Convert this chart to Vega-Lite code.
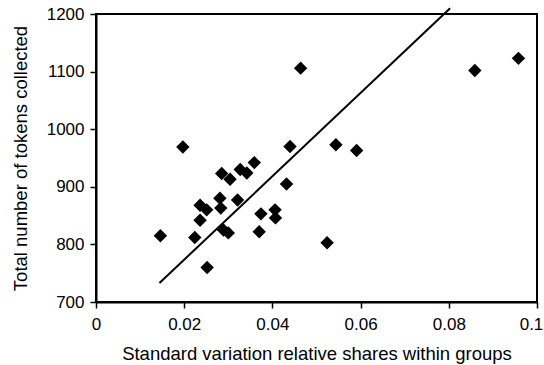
{
  "$schema": "https://vega.github.io/schema/vega-lite/v6.json",
  "autosize": "none",
  "width": 441,
  "height": 288,
  "padding": {"left": 96, "top": 14, "right": 7, "bottom": 63},
  "background": "white",
  "config": {
    "font": "Liberation Sans",
    "view": {"stroke": "black", "strokeWidth": 2},
    "axis": {
      "grid": false,
      "domainColor": "black",
      "domainWidth": 2,
      "tickColor": "black",
      "tickWidth": 1.5,
      "tickSize": 6,
      "labelColor": "black",
      "labelFontSize": 17,
      "labelFont": "Liberation Sans",
      "titleColor": "black",
      "titleFontSize": 18.5,
      "titleFont": "Liberation Sans",
      "titleFontWeight": "normal"
    }
  },
  "datasets": {
    "pts": [
      {"x": 0.0146, "y": 815},
      {"x": 0.0197, "y": 969},
      {"x": 0.0224, "y": 812},
      {"x": 0.0236, "y": 868},
      {"x": 0.0236, "y": 842},
      {"x": 0.0251, "y": 860},
      {"x": 0.0252, "y": 760},
      {"x": 0.0281, "y": 880},
      {"x": 0.0283, "y": 863},
      {"x": 0.0285, "y": 923},
      {"x": 0.0289, "y": 825},
      {"x": 0.0300, "y": 820},
      {"x": 0.0304, "y": 913},
      {"x": 0.0321, "y": 877},
      {"x": 0.0327, "y": 930},
      {"x": 0.0342, "y": 924},
      {"x": 0.0359, "y": 942},
      {"x": 0.0370, "y": 822},
      {"x": 0.0374, "y": 853},
      {"x": 0.0406, "y": 860},
      {"x": 0.0407, "y": 846},
      {"x": 0.0432, "y": 905},
      {"x": 0.0440, "y": 970},
      {"x": 0.0464, "y": 1106},
      {"x": 0.0524, "y": 803},
      {"x": 0.0544, "y": 973},
      {"x": 0.0591, "y": 963},
      {"x": 0.0859, "y": 1102},
      {"x": 0.0958, "y": 1123}
    ],
    "trend": [
      {"x": 0.0144, "y": 733},
      {"x": 0.0803, "y": 1210}
    ]
  },
  "layer": [
    {
      "data": {"name": "trend"},
      "mark": {"type": "line", "color": "black", "strokeWidth": 2, "clip": false},
      "encoding": {
        "x": {"field": "x", "type": "quantitative"},
        "y": {"field": "y", "type": "quantitative"}
      }
    },
    {
      "data": {"name": "pts"},
      "mark": {"type": "point", "shape": "diamond", "filled": true, "color": "black", "opacity": 1, "size": 180},
      "encoding": {
        "x": {
          "field": "x", "type": "quantitative",
          "scale": {"domain": [0, 0.1], "nice": false, "zero": false},
          "axis": {
            "title": "Standard variation relative shares within groups",
            "values": [0, 0.02, 0.04, 0.06, 0.08, 0.1],
            "format": "~g",
            "labelPadding": 8,
            "titlePadding": 12,
            "labelFlush": false,
            "labelOffset": {"expr": "datum.value == 0.1 ? -6 : 0"}
          }
        },
        "y": {
          "field": "y", "type": "quantitative",
          "scale": {"domain": [700, 1200], "nice": false, "zero": false},
          "axis": {
            "title": "Total number of tokens collected",
            "values": [700, 800, 900, 1000, 1100, 1200],
            "format": "d",
            "labelPadding": 6,
            "titlePadding": 16,
            "labelFlush": false
          }
        }
      }
    }
  ]
}
